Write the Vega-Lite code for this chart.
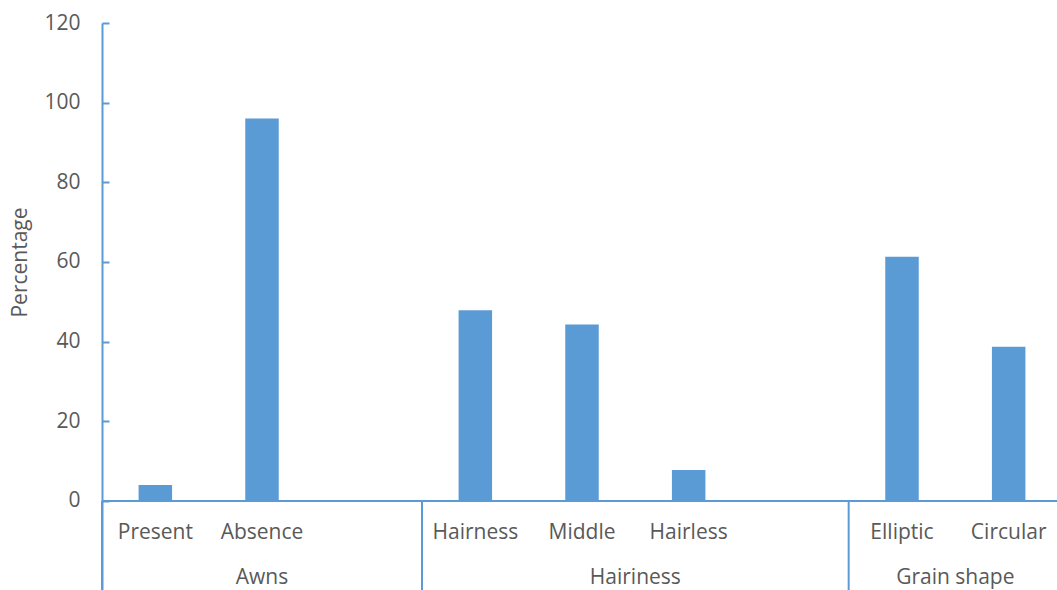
{
  "$schema": "https://vega.github.io/schema/vega-lite/v6.json",
  "autosize": {"type": "none"},
  "padding": {"left": 102, "top": 23, "right": 0, "bottom": 0},
  "width": 955,
  "height": 567,
  "background": "white",
  "config": {"view": {"stroke": null}, "font": "Open Sans"},
  "datasets": {
    "traits": [
      {"group": "Awns", "category": "Present", "percentage": 4.0},
      {"group": "Awns", "category": "Absence", "percentage": 96.0},
      {"group": "Hairiness", "category": "Hairness", "percentage": 47.9},
      {"group": "Hairiness", "category": "Middle", "percentage": 44.3},
      {"group": "Hairiness", "category": "Hairless", "percentage": 7.8},
      {"group": "Grain shape", "category": "Elliptic", "percentage": 61.3},
      {"group": "Grain shape", "category": "Circular", "percentage": 38.7}
    ],
    "groups": [
      {"group": "Awns", "first": "Present", "centerCat": "Absence", "centerAt": "band middle"},
      {"group": "Hairiness", "first": "Hairness", "centerCat": "Hairless", "centerAt": "band start"},
      {"group": "Grain shape", "first": "Elliptic", "centerCat": "Circular", "centerAt": "band start"}
    ]
  },
  "layer": [
    {
      "data": {"name": "traits"},
      "mark": {"type": "bar", "color": "#5B9BD5", "width": {"band": 0.314}},
      "encoding": {
        "x": {
          "field": "category", "type": "nominal",
          "scale": {"type": "band", "domain": ["Present", "Absence", "gap1", "Hairness", "Middle", "Hairless", "gap2", "Elliptic", "Circular"], "range": [0, 960], "paddingInner": 0, "paddingOuter": 0},
          "axis": null
        },
        "y": {
          "field": "percentage", "type": "quantitative",
          "scale": {"domain": [-22.35, 120], "nice": false, "zero": false},
          "axis": {
            "values": [0, 20, 40, 60, 80, 100, 120],
            "grid": false,
            "domainColor": "#5B9BD5", "domainWidth": 2,
            "tickColor": "#5B9BD5", "tickWidth": 2, "tickSize": -7,
            "labelPadding": 29, "labelFontSize": 21, "labelColor": "#595959", "labelFont": "Open Sans",
            "title": "Percentage", "titleFontSize": 21, "titleFontWeight": "normal", "titleColor": "#595959", "titleFont": "Open Sans",
            "titleX": -82, "titleY": 239, "titleAlign": "center", "titleBaseline": "middle", "titleAngle": -90
          }
        }
      }
    },
    {
      "data": {"name": "traits"},
      "mark": {"type": "rule", "color": "#5B9BD5", "strokeWidth": 2},
      "encoding": {"y": {"datum": 0}}
    },
    {
      "data": {"name": "traits"},
      "mark": {"type": "text", "fontSize": 21, "color": "#595959", "baseline": "middle", "align": "center"},
      "encoding": {
        "x": {"field": "category", "type": "nominal"},
        "y": {"datum": -7.96},
        "text": {"field": "category"}
      }
    },
    {
      "data": {"name": "groups"},
      "mark": {"type": "rule", "color": "#5B9BD5", "strokeWidth": 2},
      "encoding": {
        "x": {"field": "first", "type": "nominal", "bandPosition": 0},
        "y": {"datum": 0},
        "y2": {"datum": -22.35}
      }
    },
    {
      "data": {"name": "groups"},
      "transform": [{"filter": "datum.centerAt === 'band middle'"}],
      "mark": {"type": "text", "fontSize": 21, "color": "#595959", "baseline": "middle", "align": "center"},
      "encoding": {
        "x": {"field": "centerCat", "type": "nominal", "bandPosition": 0.5},
        "y": {"datum": -19.3},
        "text": {"field": "group"}
      }
    },
    {
      "data": {"name": "groups"},
      "transform": [{"filter": "datum.centerAt === 'band start'"}],
      "mark": {"type": "text", "fontSize": 21, "color": "#595959", "baseline": "middle", "align": "center"},
      "encoding": {
        "x": {"field": "centerCat", "type": "nominal", "bandPosition": 0},
        "y": {"datum": -19.3},
        "text": {"field": "group"}
      }
    }
  ]
}
